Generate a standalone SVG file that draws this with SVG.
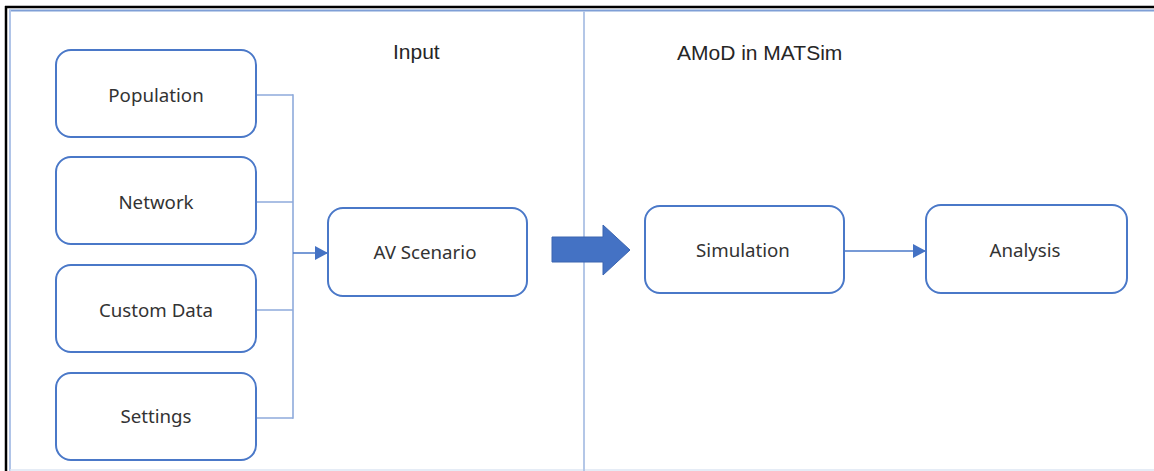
<svg xmlns="http://www.w3.org/2000/svg" width="1154" height="471" viewBox="0 0 1154 471">
<style>
.box{fill:#fff;stroke:#4a78c8;stroke-width:2}
.lbl{font-family:"Noto Sans",sans-serif;font-size:18.7px;fill:#333;text-anchor:middle}
.title{font-family:"Liberation Sans",Arial,sans-serif;font-size:21px;fill:#262626}
.conn{fill:none;stroke:#8eaadb;stroke-width:1.6}
.arr{fill:none;stroke:#4a78c8;stroke-width:1.6}
</style>
<defs>
<marker id="ah" markerWidth="13" markerHeight="14" refX="13" refY="7" orient="auto" markerUnits="userSpaceOnUse">
<path d="M0,0 L13,7 L0,14 Z" fill="#4472c4"/>
</marker>
</defs>
<rect x="0" y="0" width="1154" height="471" fill="#fff"/>
<g id="frame">
<line x1="5" y1="7" x2="1154" y2="7" stroke="#000" stroke-width="2.5"/>
<line x1="6" y1="6" x2="6" y2="471" stroke="#000" stroke-width="2.5"/>
<line x1="9" y1="10.5" x2="1154" y2="10.5" stroke="#7f9fd6" stroke-width="2"/>
<line x1="10" y1="10" x2="10" y2="471" stroke="#b0c4e8" stroke-width="2"/>
<line x1="10" y1="470" x2="1154" y2="470" stroke="#dde6f3" stroke-width="1.5"/>
<line x1="584" y1="11" x2="584" y2="471" stroke="#b4c7e7" stroke-width="2"/>
</g>
<g id="titles">
<text class="title" x="393" y="59">Input</text>
<text class="title" x="677" y="60">AMoD in MATSim</text>
</g>
<g id="connectors">
<polyline class="conn" points="256,95 293,95"/>
<polyline class="conn" points="256,202 293,202"/>
<polyline class="conn" points="256,310 293,310"/>
<polyline class="conn" points="256,418 293,418"/>
<line class="conn" x1="293" y1="94.2" x2="293" y2="418.8"/>
<line class="arr" x1="293" y1="253" x2="328" y2="253" marker-end="url(#ah)"/>
<line class="arr" x1="844" y1="251" x2="926" y2="251" marker-end="url(#ah)"/>
<path d="M552,237 L603,237 L603,225 L630,250 L603,275 L603,262 L552,262 Z" fill="#4472c4" stroke="#3a64b0" stroke-width="1"/>
</g>
<g id="population">
<rect class="box" x="56" y="50" width="200" height="87" rx="15"/>
<text class="lbl" x="156" y="102">Population</text>
</g>
<g id="network">
<rect class="box" x="56" y="157" width="200" height="87" rx="15"/>
<text class="lbl" x="156" y="209">Network</text>
</g>
<g id="customdata">
<rect class="box" x="56" y="265" width="200" height="87" rx="15"/>
<text class="lbl" x="156" y="317">Custom Data</text>
</g>
<g id="settings">
<rect class="box" x="56" y="373" width="200" height="87" rx="15"/>
<text class="lbl" x="156" y="423">Settings</text>
</g>
<g id="avscenario">
<rect class="box" x="328" y="208" width="199" height="88" rx="15"/>
<text class="lbl" x="425" y="259">AV Scenario</text>
</g>
<g id="simulation">
<rect class="box" x="645" y="206" width="199" height="87" rx="15"/>
<text class="lbl" x="743" y="257">Simulation</text>
</g>
<g id="analysis">
<rect class="box" x="926" y="205" width="201" height="88" rx="15"/>
<text class="lbl" x="1025" y="257">Analysis</text>
</g>
</svg>
